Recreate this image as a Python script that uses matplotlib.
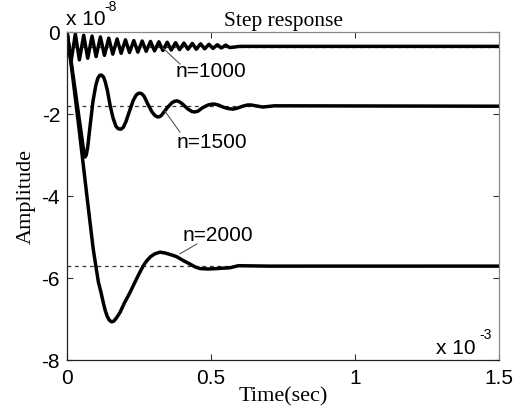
import matplotlib
matplotlib.use("Agg")
import matplotlib.pyplot as plt
import numpy as np

# time in ms (x 10^-3 s), amplitude in units of 10^-8
t_1000 = [0, 0.014, 0.029, 0.043, 0.058, 0.072, 0.087, 0.101, 0.116, 0.130,
          0.145, 0.159, 0.174, 0.188, 0.203, 0.217, 0.232, 0.246, 0.261, 0.275,
          0.290, 0.304, 0.319, 0.333, 0.348, 0.362, 0.377, 0.391, 0.406, 0.420,
          0.435, 0.449, 0.464, 0.478, 0.493, 0.507, 0.522, 0.536, 0.551, 0.565,
          0.60, 1.5]
y_1000 = [0, -0.72, -0.05, -0.68, -0.08, -0.64, -0.10, -0.60, -0.12, -0.57,
          -0.15, -0.54, -0.17, -0.52, -0.19, -0.50, -0.21, -0.49, -0.22, -0.47,
          -0.23, -0.46, -0.24, -0.45, -0.25, -0.44, -0.26, -0.43, -0.27, -0.42,
          -0.28, -0.42, -0.29, -0.41, -0.30, -0.40, -0.31, -0.39, -0.32, -0.38,
          -0.35, -0.35]

t_1500 = [0, 0.015, 0.03, 0.045, 0.052, 0.058, 0.0625, 0.067, 0.072, 0.08,
          0.09, 0.1, 0.107, 0.113, 0.12, 0.127, 0.133, 0.14, 0.15, 0.16,
          0.17, 0.178, 0.1875, 0.196, 0.205, 0.215, 0.23, 0.24, 0.247, 0.253,
          0.26, 0.268, 0.28, 0.295, 0.306, 0.314, 0.32, 0.327, 0.337, 0.35,
          0.365, 0.374, 0.382, 0.39, 0.4, 0.42, 0.434, 0.444, 0.455, 0.47,
          0.49, 0.503, 0.514, 0.525, 0.545, 0.562, 0.576, 0.59, 0.61, 0.627,
          0.64, 0.655, 0.68, 0.72, 1.5]
y_1500 = [0, -0.75, -1.5, -2.25, -2.6, -2.9, -3.05, -3.0, -2.8, -2.3,
          -1.7, -1.3, -1.13, -1.06, -1.05, -1.1, -1.22, -1.42, -1.8, -2.1,
          -2.3, -2.36, -2.37, -2.32, -2.18, -1.97, -1.67, -1.54, -1.5, -1.49,
          -1.51, -1.57, -1.75, -1.95, -2.04, -2.07, -2.07, -2.04, -1.95, -1.83,
          -1.72, -1.69, -1.68, -1.7, -1.75, -1.88, -1.94, -1.95, -1.93, -1.85,
          -1.78, -1.76, -1.76, -1.78, -1.84, -1.87, -1.88, -1.86, -1.81, -1.78,
          -1.78, -1.8, -1.83, -1.8, -1.81]

t_2000 = [0, 0.02, 0.04, 0.06, 0.075, 0.091, 0.1, 0.109, 0.118, 0.126,
          0.133, 0.14, 0.147, 0.155, 0.163, 0.172, 0.184, 0.2, 0.219, 0.236,
          0.253, 0.265, 0.277, 0.29, 0.305, 0.323, 0.34, 0.36, 0.381, 0.405,
          0.427, 0.445, 0.462, 0.49, 0.52, 0.566, 0.595, 0.7, 1.5]
y_2000 = [0, -1.1, -2.25, -3.45, -4.35, -5.29, -5.7, -6.1, -6.35, -6.6,
          -6.8, -6.94, -7.03, -7.07, -7.05, -6.97, -6.84, -6.6, -6.35, -6.1,
          -5.86, -5.7, -5.58, -5.48, -5.41, -5.37, -5.39, -5.43, -5.48, -5.58,
          -5.66, -5.73, -5.77, -5.78, -5.77, -5.75, -5.7, -5.71, -5.71]

final_vals = [-0.36, -1.80, -5.71]
labels = ["n=1000", "n=1500", "n=2000"]
label_pos = [(0.50, -0.95), (0.503, -2.68), (0.524, -4.95)]
leader_from = [(0.333, -0.39), (0.34, -1.93), (0.392, -5.41)]
leader_to = [(0.392, -0.78), (0.392, -2.44), (0.451, -5.17)]

x_ticks = [0, 0.5, 1, 1.5]
x_ticklabels = ["0", "0.5", "1", "1.5"]
y_ticks = [0, -2, -4, -6, -8]
y_ticklabels = ["0", "-2", "-4", "-6", "-8"]

sans = "Liberation Sans"
serif = "Liberation Serif"

fig = plt.figure(figsize=(5.2, 4.14), dpi=100)
ax = fig.add_axes([67/520, 1 - 361/414, 432/520, 328/414])

for v in final_vals:
    ax.axhline(v, color="#333333", lw=0.9, ls=(0, (3, 3)), zorder=1)

for t, y in [(t_1000, y_1000), (t_1500, y_1500), (t_2000, y_2000)]:
    ax.plot(t, y, color="black", lw=2.5, solid_joinstyle="round", zorder=2)

for lab, p, a, b in zip(labels, label_pos, leader_from, leader_to):
    ax.plot([a[0], b[0]], [a[1], b[1]], color="#555555", lw=0.8, zorder=3)
    ax.text(p[0], p[1], lab, family=sans, fontsize=15, ha="center", va="center")

ax.set_xlim(0, 1.5)
ax.set_ylim(-8, 0)
ax.set_xticks(x_ticks)
ax.set_xticklabels(x_ticklabels, family=sans, fontsize=15)
ax.set_yticks(y_ticks)
ax.set_yticklabels(y_ticklabels, family=sans, fontsize=15)
ax.tick_params(direction="in", length=4, width=0.8, top=True, right=True,
               color="#333333")
ax.tick_params(axis="x", pad=6)
ax.tick_params(axis="y", pad=5)

for s in ["left", "bottom"]:
    ax.spines[s].set_color("#222222")
for s in ["top", "right"]:
    ax.spines[s].set_color("#888888")
for s in ax.spines.values():
    s.set_linewidth(0.9)

ax.set_title("Step response", family=serif, fontsize=15.5, pad=5)
ax.set_xlabel("Time(sec)", family=serif, fontsize=16, labelpad=-1)
ax.set_ylabel("Amplitude", family=serif, fontsize=16, labelpad=4)

# multipliers
fig.text(66/520, 1 - 25/414, "x 10", family=sans, fontsize=15, ha="left", va="baseline")
fig.text(104/520, 1 - 11/414, "-8", family=sans, fontsize=10, ha="left", va="baseline")
fig.text(436/520, 1 - 354/414, "x 10", family=sans, fontsize=15, ha="left", va="baseline")
fig.text(479/520, 1 - 339/414, "-3", family=sans, fontsize=10, ha="left", va="baseline")

fig.savefig("out.png", dpi=100)
